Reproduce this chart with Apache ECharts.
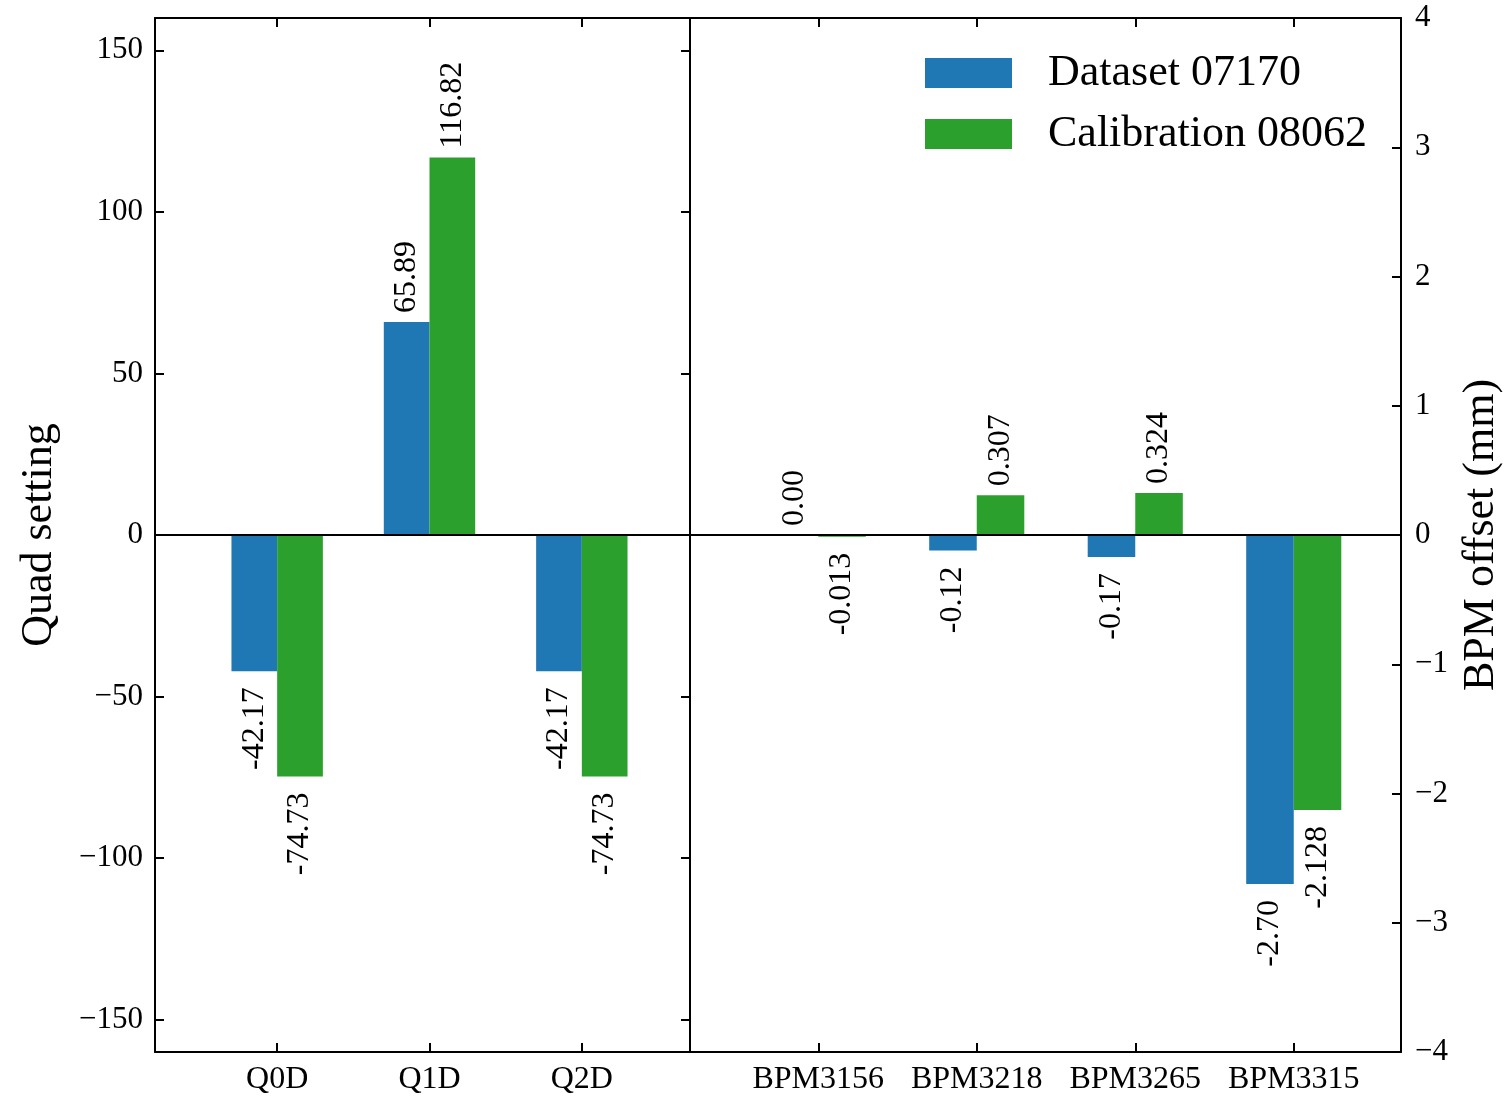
<!DOCTYPE html>
<html>
<head>
<meta charset="utf-8">
<script src="https://cdn.jsdelivr.net/npm/echarts@6/dist/echarts.min.js"></script>
<style>
html,body{margin:0;padding:0;background:#fff;}
#chart{width:1504px;height:1096px;}
</style>
</head>
<body>
<div id="chart"></div>
<script>
// ---- data ----
const quadCategories = ['Q0D', 'Q1D', 'Q2D'];
const quadDataset = [-42.17, 65.89, -42.17];
const quadCalibration = [-74.73, 116.82, -74.73];
const bpmCategories = ['BPM3156', 'BPM3218', 'BPM3265', 'BPM3315'];
const bpmDataset = [0.00, -0.12, -0.17, -2.70];
const bpmCalibration = [-0.013, 0.307, 0.324, -2.128];
const quadTicks = [-150, -100, -50, 0, 50, 100, 150];
const bpmTicks = [-4, -3, -2, -1, 0, 1, 2, 3, 4];
const seriesNames = ['Dataset 07170', 'Calibration 08062'];

const BLUE = '#1f77b4', GREEN = '#2ca02c';
const FONT = "'Liberation Serif', 'DejaVu Serif', serif";
const minusFmt = v => (v < 0 ? '\u2212' + Math.abs(v) : String(v));

function withLabels(values) {
  return values.map(v => ({
    value: v,
    label: v >= 0
      ? { position: 'top', align: 'left', distance: 9 }
      : { position: 'bottom', align: 'right', distance: 16 }
  }));
}
function barLabel(decimals) {
  return {
    show: true, rotate: 90, verticalAlign: 'middle',
    fontSize: 32, fontFamily: FONT, color: '#000',
    formatter: p => Number(p.value).toFixed(decimals)
  };
}
const tickStyle = { show: true, inside: true, length: 9, lineStyle: { color: '#000', width: 2 } };
const catTick = Object.assign({ alignWithLabel: true, interval: 0 }, tickStyle);
const frameLine = { show: true, onZero: false, lineStyle: { color: '#000', width: 2 } };
const ghostLine = { show: true, onZero: false, lineStyle: { color: 'rgba(0,0,0,0)', width: 1 } };

const chart = echarts.init(document.getElementById('chart'), null, { renderer: 'canvas' });
chart.setOption({
  animation: false,
  backgroundColor: '#fff',
  textStyle: { fontFamily: FONT, color: '#000' },
  legend: {
    orient: 'vertical', left: 925, top: 45, padding: 0,
    itemWidth: 87, itemHeight: 30, itemGap: 5,
    icon: 'rect',
    data: seriesNames,
    textStyle: { fontSize: 44, fontFamily: FONT, color: '#000', lineHeight: 46, padding: [10, 0, 0, 31] }
  },
  grid: [
    { left: 155, top: 18, width: 535, height: 1034 },
    { left: 201, top: 18, width: 457, height: 1034 },
    { left: 690, top: 18, width: 715, height: 1034 },
    { left: 739, top: 18, width: 634, height: 1034 }
  ],
  xAxis: [
    // zero line of left panel
    { gridIndex: 0, type: 'value', min: 0, max: 1, z: 5,
      axisLine: { show: true, onZero: true, lineStyle: { color: '#000', width: 2 } },
      axisTick: { show: false }, axisLabel: { show: false }, splitLine: { show: false } },
    { gridIndex: 1, type: 'category', data: quadCategories, position: 'bottom',
      axisLine: ghostLine, axisTick: catTick,
      axisLabel: { interval: 0, fontSize: 32, fontFamily: FONT, color: '#000', margin: 12 } },
    { gridIndex: 1, type: 'category', data: quadCategories, position: 'top',
      axisLine: ghostLine, axisTick: catTick,
      axisLabel: { show: false } },
    // zero line of right panel
    { gridIndex: 2, type: 'value', min: 0, max: 1, z: 5,
      axisLine: { show: true, onZero: true, lineStyle: { color: '#000', width: 2 } },
      axisTick: { show: false }, axisLabel: { show: false }, splitLine: { show: false } },
    { gridIndex: 3, type: 'category', data: bpmCategories, position: 'bottom',
      axisLine: ghostLine, axisTick: catTick,
      axisLabel: { interval: 0, fontSize: 32, fontFamily: FONT, color: '#000', margin: 12 } },
    { gridIndex: 3, type: 'category', data: bpmCategories, position: 'top',
      axisLine: ghostLine, axisTick: catTick,
      axisLabel: { show: false } },
    // frame lines (bottom / top) of both panels
    { gridIndex: 0, type: 'value', min: 0, max: 1, position: 'bottom', axisLine: frameLine,
      axisTick: { show: false }, axisLabel: { show: false }, splitLine: { show: false } },
    { gridIndex: 0, type: 'value', min: 0, max: 1, position: 'top', axisLine: frameLine,
      axisTick: { show: false }, axisLabel: { show: false }, splitLine: { show: false } },
    { gridIndex: 2, type: 'value', min: 0, max: 1, position: 'bottom', axisLine: frameLine,
      axisTick: { show: false }, axisLabel: { show: false }, splitLine: { show: false } },
    { gridIndex: 2, type: 'value', min: 0, max: 1, position: 'top', axisLine: frameLine,
      axisTick: { show: false }, axisLabel: { show: false }, splitLine: { show: false } }
  ],
  yAxis: [
    { gridIndex: 0, type: 'value', position: 'left', min: -160, max: 160,
      name: 'Quad setting', nameLocation: 'middle', nameRotate: 90, nameGap: 94,
      nameTextStyle: { fontSize: 44, fontFamily: FONT, color: '#000' },
      axisLine: frameLine,
      axisTick: Object.assign({ customValues: quadTicks }, tickStyle),
      axisLabel: { customValues: quadTicks, formatter: minusFmt, fontSize: 31, fontFamily: FONT, color: '#000', margin: 12 },
      splitLine: { show: false } },
    { gridIndex: 0, type: 'value', position: 'right', min: -160, max: 160,
      axisLine: frameLine,
      axisTick: Object.assign({ customValues: quadTicks }, tickStyle),
      axisLabel: { show: false }, splitLine: { show: false } },
    { gridIndex: 1, type: 'value', min: -160, max: 160, show: false, splitLine: { show: false } },
    { gridIndex: 2, type: 'value', position: 'right', min: -4, max: 4, interval: 1,
      name: 'BPM offset (mm)', nameLocation: 'middle', nameRotate: 90, nameGap: 58,
      nameTextStyle: { fontSize: 44, fontFamily: FONT, color: '#000' },
      axisLine: frameLine,
      axisTick: tickStyle,
      axisLabel: { formatter: minusFmt, fontSize: 31, fontFamily: FONT, color: '#000', margin: 14 },
      splitLine: { show: false } },
    { gridIndex: 3, type: 'value', min: -4, max: 4, show: false, splitLine: { show: false } }
  ],
  series: [
    { name: seriesNames[0], type: 'bar', xAxisIndex: 1, yAxisIndex: 2, data: withLabels(quadDataset),
      barWidth: '30%', barGap: '0%', itemStyle: { color: BLUE }, label: barLabel(2) },
    { name: seriesNames[1], type: 'bar', xAxisIndex: 1, yAxisIndex: 2, data: withLabels(quadCalibration),
      barWidth: '30%', barGap: '0%', itemStyle: { color: GREEN }, label: barLabel(2) },
    { name: seriesNames[0], type: 'bar', xAxisIndex: 4, yAxisIndex: 4, data: withLabels(bpmDataset),
      barWidth: '30%', barGap: '0%', itemStyle: { color: BLUE }, label: barLabel(2) },
    { name: seriesNames[1], type: 'bar', xAxisIndex: 4, yAxisIndex: 4, data: withLabels(bpmCalibration),
      barWidth: '30%', barGap: '0%', itemStyle: { color: GREEN }, label: barLabel(3) }
  ]
});
</script>
</body>
</html>
